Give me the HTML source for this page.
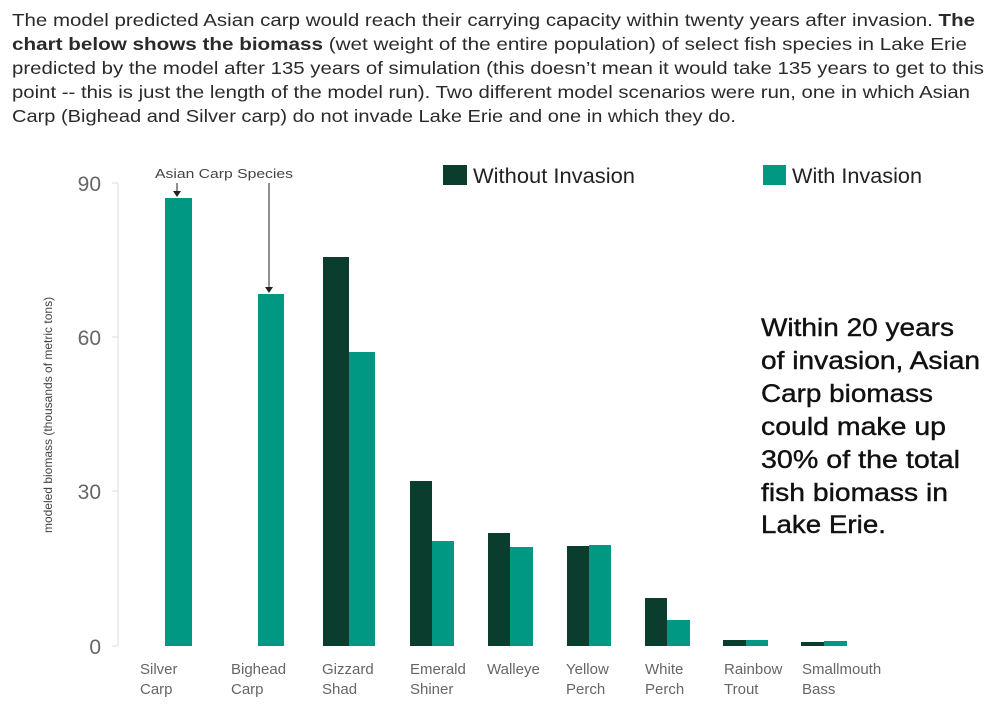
<!DOCTYPE html>
<html><head><meta charset="utf-8"><style>
html,body{margin:0;padding:0;background:#fff;}
svg{display:block;}
text{font-family:"Liberation Sans",sans-serif;}
</style></head><body>
<svg width="994" height="717" viewBox="0 0 994 717" xmlns="http://www.w3.org/2000/svg">
<g font-size="17.5" fill="#2a2a2a">
<text x="12" y="26" textLength="963" lengthAdjust="spacingAndGlyphs">The model predicted Asian carp would reach their carrying capacity within twenty years after invasion. <tspan font-weight="bold">The</tspan></text>
<text x="12" y="50" textLength="955" lengthAdjust="spacingAndGlyphs"><tspan font-weight="bold">chart below shows the biomass</tspan> (wet weight of the entire population) of select fish species in Lake Erie</text>
<text x="12" y="74" textLength="972" lengthAdjust="spacingAndGlyphs">predicted by the model after 135 years of simulation (this doesn’t mean it would take 135 years to get to this</text>
<text x="12" y="98" textLength="958" lengthAdjust="spacingAndGlyphs">point -- this is just the length of the model run). Two different model scenarios were run, one in which Asian</text>
<text x="12" y="122" textLength="724" lengthAdjust="spacingAndGlyphs">Carp (Bighead and Silver carp) do not invade Lake Erie and one in which they do.</text>
</g>
<line x1="118" y1="183" x2="118" y2="646" stroke="#ddd" stroke-width="1"/>
<g stroke="#ddd"><line x1="112" y1="183" x2="118" y2="183"/><line x1="112" y1="337" x2="118" y2="337"/><line x1="112" y1="491" x2="118" y2="491"/><line x1="112" y1="646" x2="118" y2="646"/></g>
<g font-size="21" fill="#666" text-anchor="end">
<text x="101" y="191">90</text><text x="101" y="345">60</text><text x="101" y="499">30</text><text x="101" y="654">0</text>
</g>
<text transform="translate(52,415) rotate(-90)" font-size="12" fill="#444" text-anchor="middle">modeled biomass (thousands of metric tons)</text>
<g fill="#009882">
<rect x="165" y="198" width="27" height="448"/>
<rect x="258" y="294" width="26" height="352"/>
<rect x="349" y="352" width="26" height="294"/>
<rect x="432" y="541" width="22" height="105"/>
<rect x="510" y="547" width="23" height="99"/>
<rect x="589" y="545" width="22" height="101"/>
<rect x="667" y="620" width="23" height="26"/>
<rect x="746" y="640" width="22" height="6"/>
<rect x="824" y="641" width="23" height="5"/>
</g>
<g fill="#0b3d2e">
<rect x="323" y="257" width="26" height="389"/>
<rect x="410" y="481" width="22" height="165"/>
<rect x="488" y="533" width="22" height="113"/>
<rect x="567" y="546" width="22" height="100"/>
<rect x="645" y="598" width="22" height="48"/>
<rect x="723" y="640" width="23" height="6"/>
<rect x="801" y="642" width="23" height="4"/>
</g>
<text x="155" y="178" font-size="13" fill="#444" textLength="138" lengthAdjust="spacingAndGlyphs">Asian Carp Species</text>
<line x1="177" y1="183" x2="177" y2="194" stroke="#222" stroke-width="1"/>
<path d="M173,191 L177,197 L181,191 Z" fill="#222"/>
<line x1="269" y1="183" x2="269" y2="290" stroke="#222" stroke-width="1"/>
<path d="M265,287 L269,293 L273,287 Z" fill="#222"/>
<rect x="443" y="165" width="24" height="20" fill="#0b3d2e"/>
<text x="473" y="183" font-size="21" fill="#222" textLength="162" lengthAdjust="spacingAndGlyphs">Without Invasion</text>
<rect x="763" y="165" width="23" height="20" fill="#009882"/>
<text x="792" y="183" font-size="21" fill="#222" textLength="130" lengthAdjust="spacingAndGlyphs">With Invasion</text>
<g font-size="25" fill="#111" stroke="#111" stroke-width="0.4">
<text x="761" y="336" textLength="193" lengthAdjust="spacingAndGlyphs">Within 20 years</text>
<text x="761" y="369" textLength="219" lengthAdjust="spacingAndGlyphs">of invasion, Asian</text>
<text x="761" y="402" textLength="172" lengthAdjust="spacingAndGlyphs">Carp biomass</text>
<text x="761" y="435" textLength="185" lengthAdjust="spacingAndGlyphs">could make up</text>
<text x="761" y="468" textLength="199" lengthAdjust="spacingAndGlyphs">30% of the total</text>
<text x="761" y="501" textLength="187" lengthAdjust="spacingAndGlyphs">fish biomass in</text>
<text x="761" y="533" textLength="125" lengthAdjust="spacingAndGlyphs">Lake Erie.</text>
</g>
<g font-size="15" fill="#666">
<text x="140" y="674">Silver</text><text x="140" y="694">Carp</text>
<text x="231" y="674">Bighead</text><text x="231" y="694">Carp</text>
<text x="322" y="674">Gizzard</text><text x="322" y="694">Shad</text>
<text x="410" y="674">Emerald</text><text x="410" y="694">Shiner</text>
<text x="487" y="674">Walleye</text>
<text x="566" y="674">Yellow</text><text x="566" y="694">Perch</text>
<text x="645" y="674">White</text><text x="645" y="694">Perch</text>
<text x="724" y="674">Rainbow</text><text x="724" y="694">Trout</text>
<text x="802" y="674">Smallmouth</text><text x="802" y="694">Bass</text>
</g>
</svg>
</body></html>
